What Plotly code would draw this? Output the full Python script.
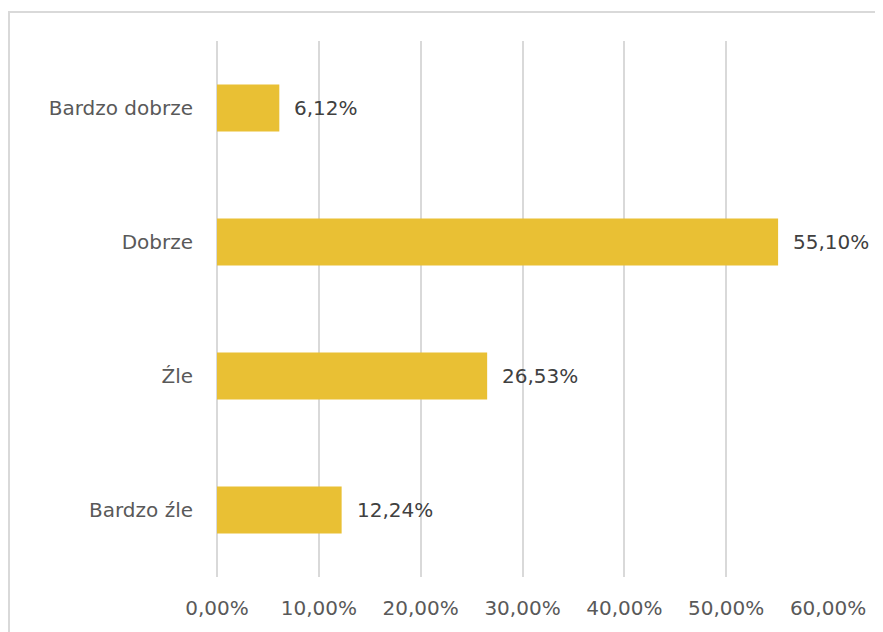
import plotly.graph_objects as go

categories = ["Bardzo dobrze", "Dobrze", "Źle", "Bardzo źle"]
values = [0.0612, 0.5510, 0.2653, 0.1224]
tick_values = [0, 0.1, 0.2, 0.3, 0.4, 0.5, 0.6]
tick_labels = ["0,00%", "10,00%", "20,00%", "30,00%", "40,00%", "50,00%", "60,00%"]
value_labels = ["6,12%", "55,10%", "26,53%", "12,24%"]

FONT = "DejaVu Sans"
TXT = "#595959"
GRID = "#D9D9D9"
FS = 20

fig = go.Figure()
fig.add_trace(go.Bar(
    y=categories, x=values, orientation="h",
    marker=dict(color="#E9C034", line=dict(width=0)),
    hoverinfo="skip",
))

for c, v, lab in zip(categories, values, value_labels):
    fig.add_annotation(x=v, y=c, text=lab, showarrow=False,
                       xanchor="left", xshift=13,
                       font=dict(family=FONT, size=FS, color="#404040"))

fig.add_shape(type="rect", xref="paper", yref="paper",
              x0=-0.3404, x1=1.2, y0=-0.2, y1=1.054,
              line=dict(color=GRID, width=2), layer="below")

fig.update_layout(
    width=875, height=624,
    margin=dict(l=209, r=55, t=33, b=51),
    paper_bgcolor="white", plot_bgcolor="white",
    bargap=0.65, showlegend=False,
    separators=",.",
    font=dict(family=FONT, size=FS, color=TXT),
)
fig.update_xaxes(range=[0, 0.6], tickvals=tick_values, ticktext=tick_labels,
                 showgrid=True, gridcolor=GRID, gridwidth=1.5,
                 zeroline=True, zerolinecolor=GRID, zerolinewidth=1.5,
                 showline=False, ticks="outside", ticklen=13, tickcolor="rgba(0,0,0,0)",
                 tickfont=dict(family=FONT, size=FS, color=TXT), fixedrange=True)
fig.update_yaxes(autorange="reversed", showgrid=False, zeroline=False,
                 ticks="outside", ticklen=19, tickcolor="rgba(0,0,0,0)",
                 tickfont=dict(family=FONT, size=FS, color=TXT), fixedrange=True)

fig.write_html("out.html", config={"displayModeBar": False})
